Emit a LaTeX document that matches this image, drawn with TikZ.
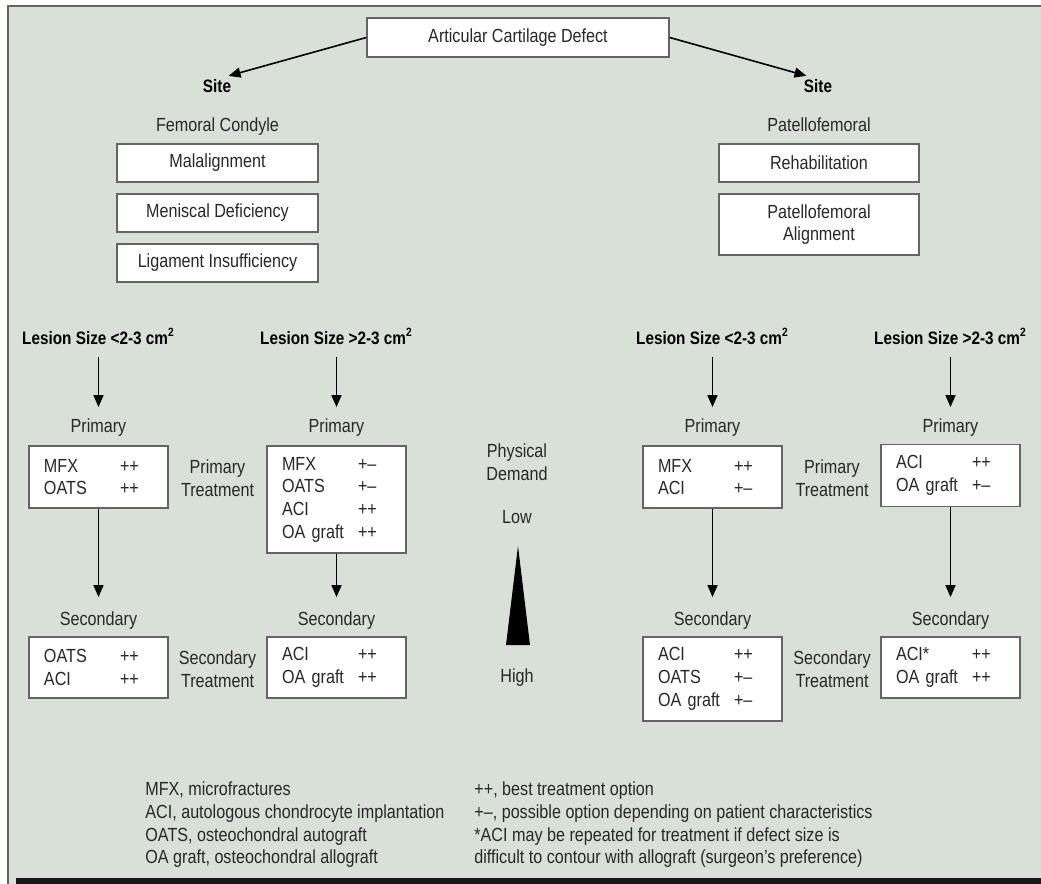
\documentclass[tikz,border=0pt]{standalone}
\usepackage{fontspec}
\setmainfont[FakeStretch=0.85]{Liberation Sans}
\usetikzlibrary{arrows.meta}
\definecolor{panel}{RGB}{217,224,216}
\definecolor{ink}{RGB}{40,40,40}
\definecolor{rim}{RGB}{100,100,100}
\newcommand{\optrow}[2]{\makebox[38pt][l]{#1}#2}

\begin{document}
\begin{tikzpicture}[x=0.5pt,y=-0.5pt,
  every node/.style={font=\fontsize{9.5}{11.35}\selectfont, text=ink},
  box/.style={draw=rim, line width=0.7pt, fill=white, minimum width=100.5pt, minimum height=19pt, inner sep=0pt, align=center},
  lbl/.style={inner sep=0pt, text height=6.5pt, text depth=2pt},
  hd/.style={lbl, font=\fontsize{9}{11.35}\selectfont\bfseries, text=black},
  trt/.style={draw=rim, line width=0.7pt, fill=white, text width=54.5pt, inner xsep=7.5pt, inner ysep=0pt, align=left, minimum height=31pt},
  side/.style={align=center, inner sep=0pt},
  arr/.style={-{Triangle[length=6pt,width=5pt]}, line width=0.8pt, black, shorten >=6pt},
  vln/.style={arr, shorten >=7.5pt}
]
\useasboundingbox (0,0) rectangle (1041,884);
\fill[white] (0,0) rectangle (1041,884);
\draw[rim, line width=1pt, fill=panel] (8,6) rectangle (1060,900);
\fill[black!90] (16,878) rectangle (1060,900);

% Top
\node[box, minimum width=151pt, minimum height=19.5pt] (acd) at (518,37.5) {Articular Cartilage Defect};
\node[hd] (siteL) at (217,88) {Site};
\node[hd] (siteR) at (818,88) {Site};
\draw[arr] (acd.west) -- (siteL.north);
\draw[arr] (acd.east) -- (siteR.north);

% Femoral condyle
\node[lbl] (fem) at (217.5,127) {Femoral Condyle};
\node[box] (mal) at (217.5,163) {Malalignment};
\node[box] (men) at (217.5,213) {Meniscal Deficiency};
\node[box] (lig) at (217.5,263) {Ligament Insufficiency};

% Patellofemoral
\node[lbl] (pf) at (819,127) {Patellofemoral};
\node[box, minimum width=100pt] (reh) at (819,163) {Rehabilitation};
\node[box, minimum width=100pt, minimum height=30.5pt] (pfa) at (819,224.5) {Patellofemoral\\Alignment};

% Lesion size
\node[hd] (ls1) at (98.5,340) {Lesion Size <2-3 cm\textsuperscript{2}};
\node[hd] (ls2) at (336.5,340) {Lesion Size >2-3 cm\textsuperscript{2}};
\node[hd] (ls3) at (712.5,340) {Lesion Size <2-3 cm\textsuperscript{2}};
\node[hd] (ls4) at (950.5,340) {Lesion Size >2-3 cm\textsuperscript{2}};

% Primary
\node[lbl] (pl1) at (98.5,428) {Primary};
\node[lbl] (pl2) at (336.5,428) {Primary};
\node[lbl] (pl3) at (712.5,428) {Primary};
\node[lbl] (pl4) at (950.5,428) {Primary};
\foreach \i in {1,...,4}
  \draw[arr, shorten <=4pt] (ls\i.south) -- (pl\i.north);

\node[trt] (p1) at (98.5,477) {\optrow{MFX}{++}\\\optrow{OATS}{++}};
\node[trt, minimum height=53.5pt] (p2) at (336.5,499.5) {\optrow{MFX}{+--}\\\optrow{OATS}{+--}\\\optrow{ACI}{++}\\\optrow{OA graft}{++}};
\node[trt] (p3) at (712.5,477) {\optrow{MFX}{++}\\\optrow{ACI}{+--}};
\node[trt] (p4) at (950.5,475.5) {\optrow{ACI}{++}\\\optrow{OA graft}{+--}};
\node[side] (pt1) at (217.5,478.5) {Primary\\Treatment};
\node[side] (pt2) at (832,478.5) {Primary\\Treatment};

% Secondary
\node[lbl] (sl1) at (98.5,621) {Secondary};
\node[lbl] (sl2) at (336.5,621) {Secondary};
\node[lbl] (sl3) at (712.5,621) {Secondary};
\node[lbl] (sl4) at (950.5,621) {Secondary};
\foreach \i in {1,...,4}
  \draw[vln] (p\i.south) -- (sl\i.north);

\node[trt, minimum height=30.5pt] (s1) at (98.5,667.5) {\optrow{OATS}{++}\\\optrow{ACI}{++}};
\node[trt, minimum height=30.5pt] (s2) at (336.5,667.5) {\optrow{ACI}{++}\\\optrow{OA graft}{++}};
\node[trt, minimum height=42pt] (s3) at (712.5,679) {\optrow{ACI}{++}\\\optrow{OATS}{+--}\\\optrow{OA graft}{+--}};
\node[trt, minimum height=30.5pt] (s4) at (950.5,667.5) {\optrow{ACI*}{++}\\\optrow{OA graft}{++}};
\node[side] (st1) at (217.5,669) {Secondary\\Treatment};
\node[side] (st2) at (832,669) {Secondary\\Treatment};

% Physical demand
\node[side] (pd) at (517,462.5) {Physical\\Demand};
\node[lbl] (low) at (517,519) {Low};
\fill[black] (518,546) -- (530,645) -- (506,645) -- cycle;
\node[lbl] (high) at (517,678) {High};

% Key
\node[align=left, anchor=west, inner sep=0pt] (keyL) at (145,825)
  {MFX, microfractures\\ACI, autologous chondrocyte implantation\\OATS, osteochondral autograft\\OA graft, osteochondral allograft};
\node[align=left, anchor=west, inner sep=0pt] (keyR) at (474,825)
  {++, best treatment option\\+--, possible option depending on patient characteristics\\*ACI may be repeated for treatment if defect size is\\difficult to contour with allograft (surgeon's preference)};
\end{tikzpicture}
\end{document}
